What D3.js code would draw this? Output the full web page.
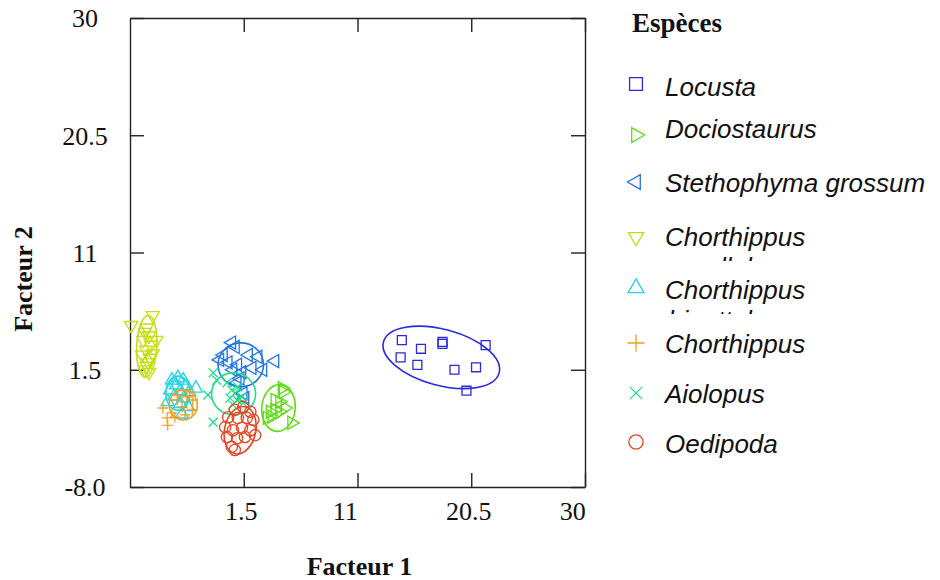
<!DOCTYPE html>
<meta charset="utf-8" />
<script src="https://d3js.org/d3.v7.min.js"></script>
<style>
	body { margin: 0; background: #fff; }
	.axis path, .axis line { stroke: #222; stroke-width: 1.4; }
	.axis text { font-family: "Liberation Serif", "DejaVu Serif", serif; font-size: 26px; fill: #111; }
	.title { font-family: "Liberation Serif", serif; font-weight: bold; font-size: 26px; fill: #111; }
	.leg { font-family: "Liberation Sans", Arial, sans-serif; font-style: italic; font-size: 26px; fill: #111; }
</style>
<div id="chart"></div>
<script>
	// Axis ticks
	const xTicks = [1.5, 11, 20.5, 30];
	const xTickLabels = ["1.5", "11", "20.5", "30"];
	const yTicks = [-8, 1.5, 11, 20.5, 30];
	const yTickLabels = ["-8.0", "1.5", "11", "20.5", "30"];

	// Species (legend order)
	const speciesLine1 = ["Locusta", "Dociostaurus", "Stethophyma grossum", "Chorthippus", "Chorthippus", "Chorthippus", "Aiolopus", "Oedipoda"];
	const speciesLine2 = ["", "", "", "parallelus", "biguttulus", "", "", ""];

	// Scores on factors 1 and 2
	const locusta = [[14.7, 3.9], [16.3, 3.2], [18.1, 3.75], [18.1, 3.6], [14.6, 2.5], [16.0, 1.9], [19.1, 1.5], [20.9, 1.7], [21.7, 3.5], [20.1, -0.2]];
	const dociostaurus = [[4.7, 0.0], [4.8, -0.3], [4.1, -0.95], [4.5, -1.1], [4.95, -1.6], [4.1, -1.75], [3.7, -1.9], [4.5, -1.9], [3.45, -2.4], [5.5, -2.8], [3.85, -2.3]];
	const stethophyma = [[0.5, 3.7], [0.8, 3.35], [-0.5, 2.3], [-0.2, 2.7], [1.9, 2.7], [2.7, 2.55], [4.1, 2.2], [1.0, 1.9], [0.6, 1.5], [1.35, 1.3], [2.2, 1.65], [3.1, 1.5], [1.2, 0.8], [0.95, 0.45], [1.45, -0.4], [1.6, -0.8], [0.2, 2.1]];
	const parallelus = [[-6.1, 5.9], [-7.9, 5.1], [-6.6, 4.9], [-6.75, 4.55], [-6.4, 4.25], [-6.9, 3.9], [-6.25, 3.5], [-5.8, 3.9], [-6.65, 3.1], [-7.0, 2.7], [-6.35, 2.45], [-6.5, 2.1], [-6.6, 1.8], [-6.75, 1.5], [-6.4, 1.3], [-6.1, 2.8]];
	const biguttulus = [[-4.5, 0.65], [-4.0, 0.85], [-3.55, 0.65], [-4.15, 0.25], [-3.3, 0.2], [-4.65, -0.15], [-3.8, -0.2], [-3.05, -0.3], [-4.3, -0.65], [-3.5, -0.8], [-2.5, 0.0], [-4.85, -1.1], [-3.8, -1.25], [-3.15, -1.5], [-3.65, -2.1]];
	const chorthippus = [[-5.25, -1.6], [-4.85, -3.0], [-4.5, -2.0], [-4.05, -0.95], [-3.65, -1.5], [-3.25, -0.7], [-2.8, -1.75], [-2.75, -0.95], [-4.25, -2.35], [-4.9, -2.4], [-3.4, -2.15], [-4.0, -0.55], [-3.0, -0.3]];
	const aiolopus = [[-1.05, 1.25], [-0.75, 0.65], [-1.5, -0.55], [-1.05, -2.75], [0.5, -0.15], [0.75, -0.4], [0.35, -0.8], [0.95, -0.95], [1.35, -0.7], [0.6, -1.35], [1.0, 0.1], [1.45, -1.2], [0.1, 0.45]];
	const oedipoda = [[0.75, -1.75], [1.45, -1.5], [2.05, -1.9], [0.2, -2.35], [1.0, -2.4], [1.75, -2.4], [2.3, -2.55], [-0.05, -3.15], [0.6, -3.4], [1.35, -3.2], [2.05, -3.4], [2.45, -3.8], [0.1, -3.95], [0.95, -4.05], [1.6, -3.95], [0.5, -4.75], [0.75, -5.0]];
	const speciesPoints = [locusta, dociostaurus, stethophyma, parallelus, biguttulus, chorthippus, aiolopus, oedipoda];

	// Confidence ellipses: centre x, centre y, half axis x, half axis y, tilt (deg)
	const ellipses = [[18.0, 2.5, 5.0, 2.27, 15], [4.4, -1.6, 1.4, 1.9, 5], [1.25, 1.9, 1.9, 1.78, 0], [-6.6, 3.4, 0.84, 2.5, 3], [-4.0, -0.4, 1.0, 1.38, 0], [-3.55, -1.35, 1.17, 1.22, 0], [0.65, -0.45, 1.84, 1.7, 0], [1.2, -3.4, 1.3, 1.95, 12]];

	const colors = ["#2a2ade", "#5cdc12", "#1f74e8", "#c4de10", "#22d4e6", "#eea020", "#22de86", "#e84422"];

	// Marker shapes
	function triangle(rot) {
		return {
			draw(ctx, size) {
				const r = Math.sqrt(size) * 0.62;
				for (let k = 0; k < 3; k++) {
					const a = (rot - 90 + k * 120) * Math.PI / 180;
					const px = r * Math.cos(a), py = r * Math.sin(a);
					k ? ctx.lineTo(px, py) : ctx.moveTo(px, py);
				}
				ctx.closePath();
			}
		};
	}
	const plus = {
		draw(ctx, size) {
			const r = Math.sqrt(size) / 2;
			ctx.moveTo(-r, 0); ctx.lineTo(r, 0);
			ctx.moveTo(0, -r); ctx.lineTo(0, r);
		}
	};
	const cross = {
		draw(ctx, size) {
			const r = Math.sqrt(size) / 2;
			ctx.moveTo(-r, -r); ctx.lineTo(r, r);
			ctx.moveTo(-r, r); ctx.lineTo(r, -r);
		}
	};
	const shapes = [d3.symbolSquare, triangle(90), triangle(-90), triangle(180), triangle(0), plus, cross, d3.symbolCircle];
	const plotSizes = [80, 150, 150, 150, 150, 110, 80, 100];
	const legendSizes = [165, 190, 190, 200, 220, 290, 150, 160];

	const W = 940, H = 580;
	const plot = { left: 130, right: 585, top: 18, bottom: 487 };

	const svg = d3.select("#chart").append("svg").attr("width", W).attr("height", H);

	const x = d3.scaleLinear().domain([-8, 30]).range([plot.left, plot.right]);
	const y = d3.scaleLinear().domain([-8, 30]).range([plot.bottom, plot.top]);

	// Frame with inward ticks
	const gx = svg.append("g").attr("class", "axis")
		.attr("transform", "translate(0," + plot.bottom + ")")
		.call(d3.axisBottom(x).tickValues(xTicks).tickSize(-14).tickSizeOuter(0).tickFormat((d, i) => xTickLabels[i]));
	gx.selectAll(".tick text").each(function (d, i) {
		const t = d3.select(this);
		t.text(d3.format(".1f")(d));
		const full = this.getComputedTextLength();
		t.text(xTickLabels[i]).attr("text-anchor", "start").attr("x", -full / 2 - 3).attr("y", 33).attr("dy", 0);
	});

	svg.append("g").attr("class", "axis")
		.attr("transform", "translate(" + plot.left + ",0)")
		.call(d3.axisLeft(y).tickValues(yTicks).tickSize(-14).tickSizeOuter(0).tickFormat((d, i) => yTickLabels[i]))
		.selectAll(".tick text").attr("x", 85 - plot.left).attr("text-anchor", "middle").attr("dy", "0.34em");

	svg.append("g").attr("class", "axis")
		.attr("transform", "translate(0," + plot.top + ")")
		.call(d3.axisTop(x).tickValues(xTicks).tickSize(-14).tickSizeOuter(0).tickFormat(""));

	svg.append("g").attr("class", "axis")
		.attr("transform", "translate(" + plot.right + ",0)")
		.call(d3.axisRight(y).tickValues(yTicks).tickSize(-14).tickSizeOuter(0).tickFormat(""));

	svg.selectAll(".axis .domain").attr("stroke", "#222");

	// Axis titles
	svg.append("text").attr("class", "title")
		.attr("x", (plot.left + plot.right) / 2 + 2).attr("y", 575)
		.attr("text-anchor", "middle").text("Facteur 1");
	svg.append("text").attr("class", "title")
		.attr("transform", "translate(32,279) rotate(-90)")
		.attr("text-anchor", "middle").text("Facteur 2");

	// Points and ellipses
	speciesPoints.forEach((pts, s) => {
		const g = svg.append("g").attr("fill", "none").attr("stroke", colors[s]).attr("stroke-width", 1.3);
		const sym = d3.symbol().type(shapes[s]).size(plotSizes[s]);
		g.selectAll("path")
			.data(pts)
			.enter()
			.append("path")
			.attr("d", sym)
			.attr("transform", d => "translate(" + x(d[0]) + "," + y(d[1]) + ")");
		const e = ellipses[s];
		g.append("ellipse")
			.attr("cx", x(e[0])).attr("cy", y(e[1]))
			.attr("rx", x(e[0] + e[2]) - x(e[0]))
			.attr("ry", y(e[1]) - y(e[1] + e[3]))
			.attr("stroke-width", 1.6)
			.attr("transform", "rotate(" + e[4] + "," + x(e[0]) + "," + y(e[1]) + ")");
	});

	// Legend
	const symbolY = [84, 135, 182, 237, 288, 343, 393, 442];
	const textY = [96, 138, 192, 246, 299, 353, 403, 453];

	svg.append("text").attr("class", "title")
		.attr("x", 632).attr("y", 32).style("font-size", "27px").text("Espèces");

	const defs = svg.append("defs");
	speciesLine1.forEach((name, s) => {
		svg.append("path")
			.attr("d", d3.symbol().type(shapes[s]).size(legendSizes[s]))
			.attr("transform", "translate(636," + symbolY[s] + ")")
			.attr("fill", "none").attr("stroke", colors[s]).attr("stroke-width", 1.3);
		svg.append("text").attr("class", "leg")
			.attr("x", 665).attr("y", textY[s]).text(name);
		if (speciesLine2[s]) {
			// second line of the name is cut off in the legend box: only ascender tips show
			defs.append("clipPath").attr("id", "clip" + s)
				.append("rect").attr("x", 650).attr("y", textY[s] + 9).attr("width", 290).attr("height", 6);
			svg.append("text").attr("class", "leg")
				.attr("clip-path", "url(#clip" + s + ")")
				.attr("x", 668).attr("y", textY[s] + 30).text(speciesLine2[s]);
		}
	});
</script>
